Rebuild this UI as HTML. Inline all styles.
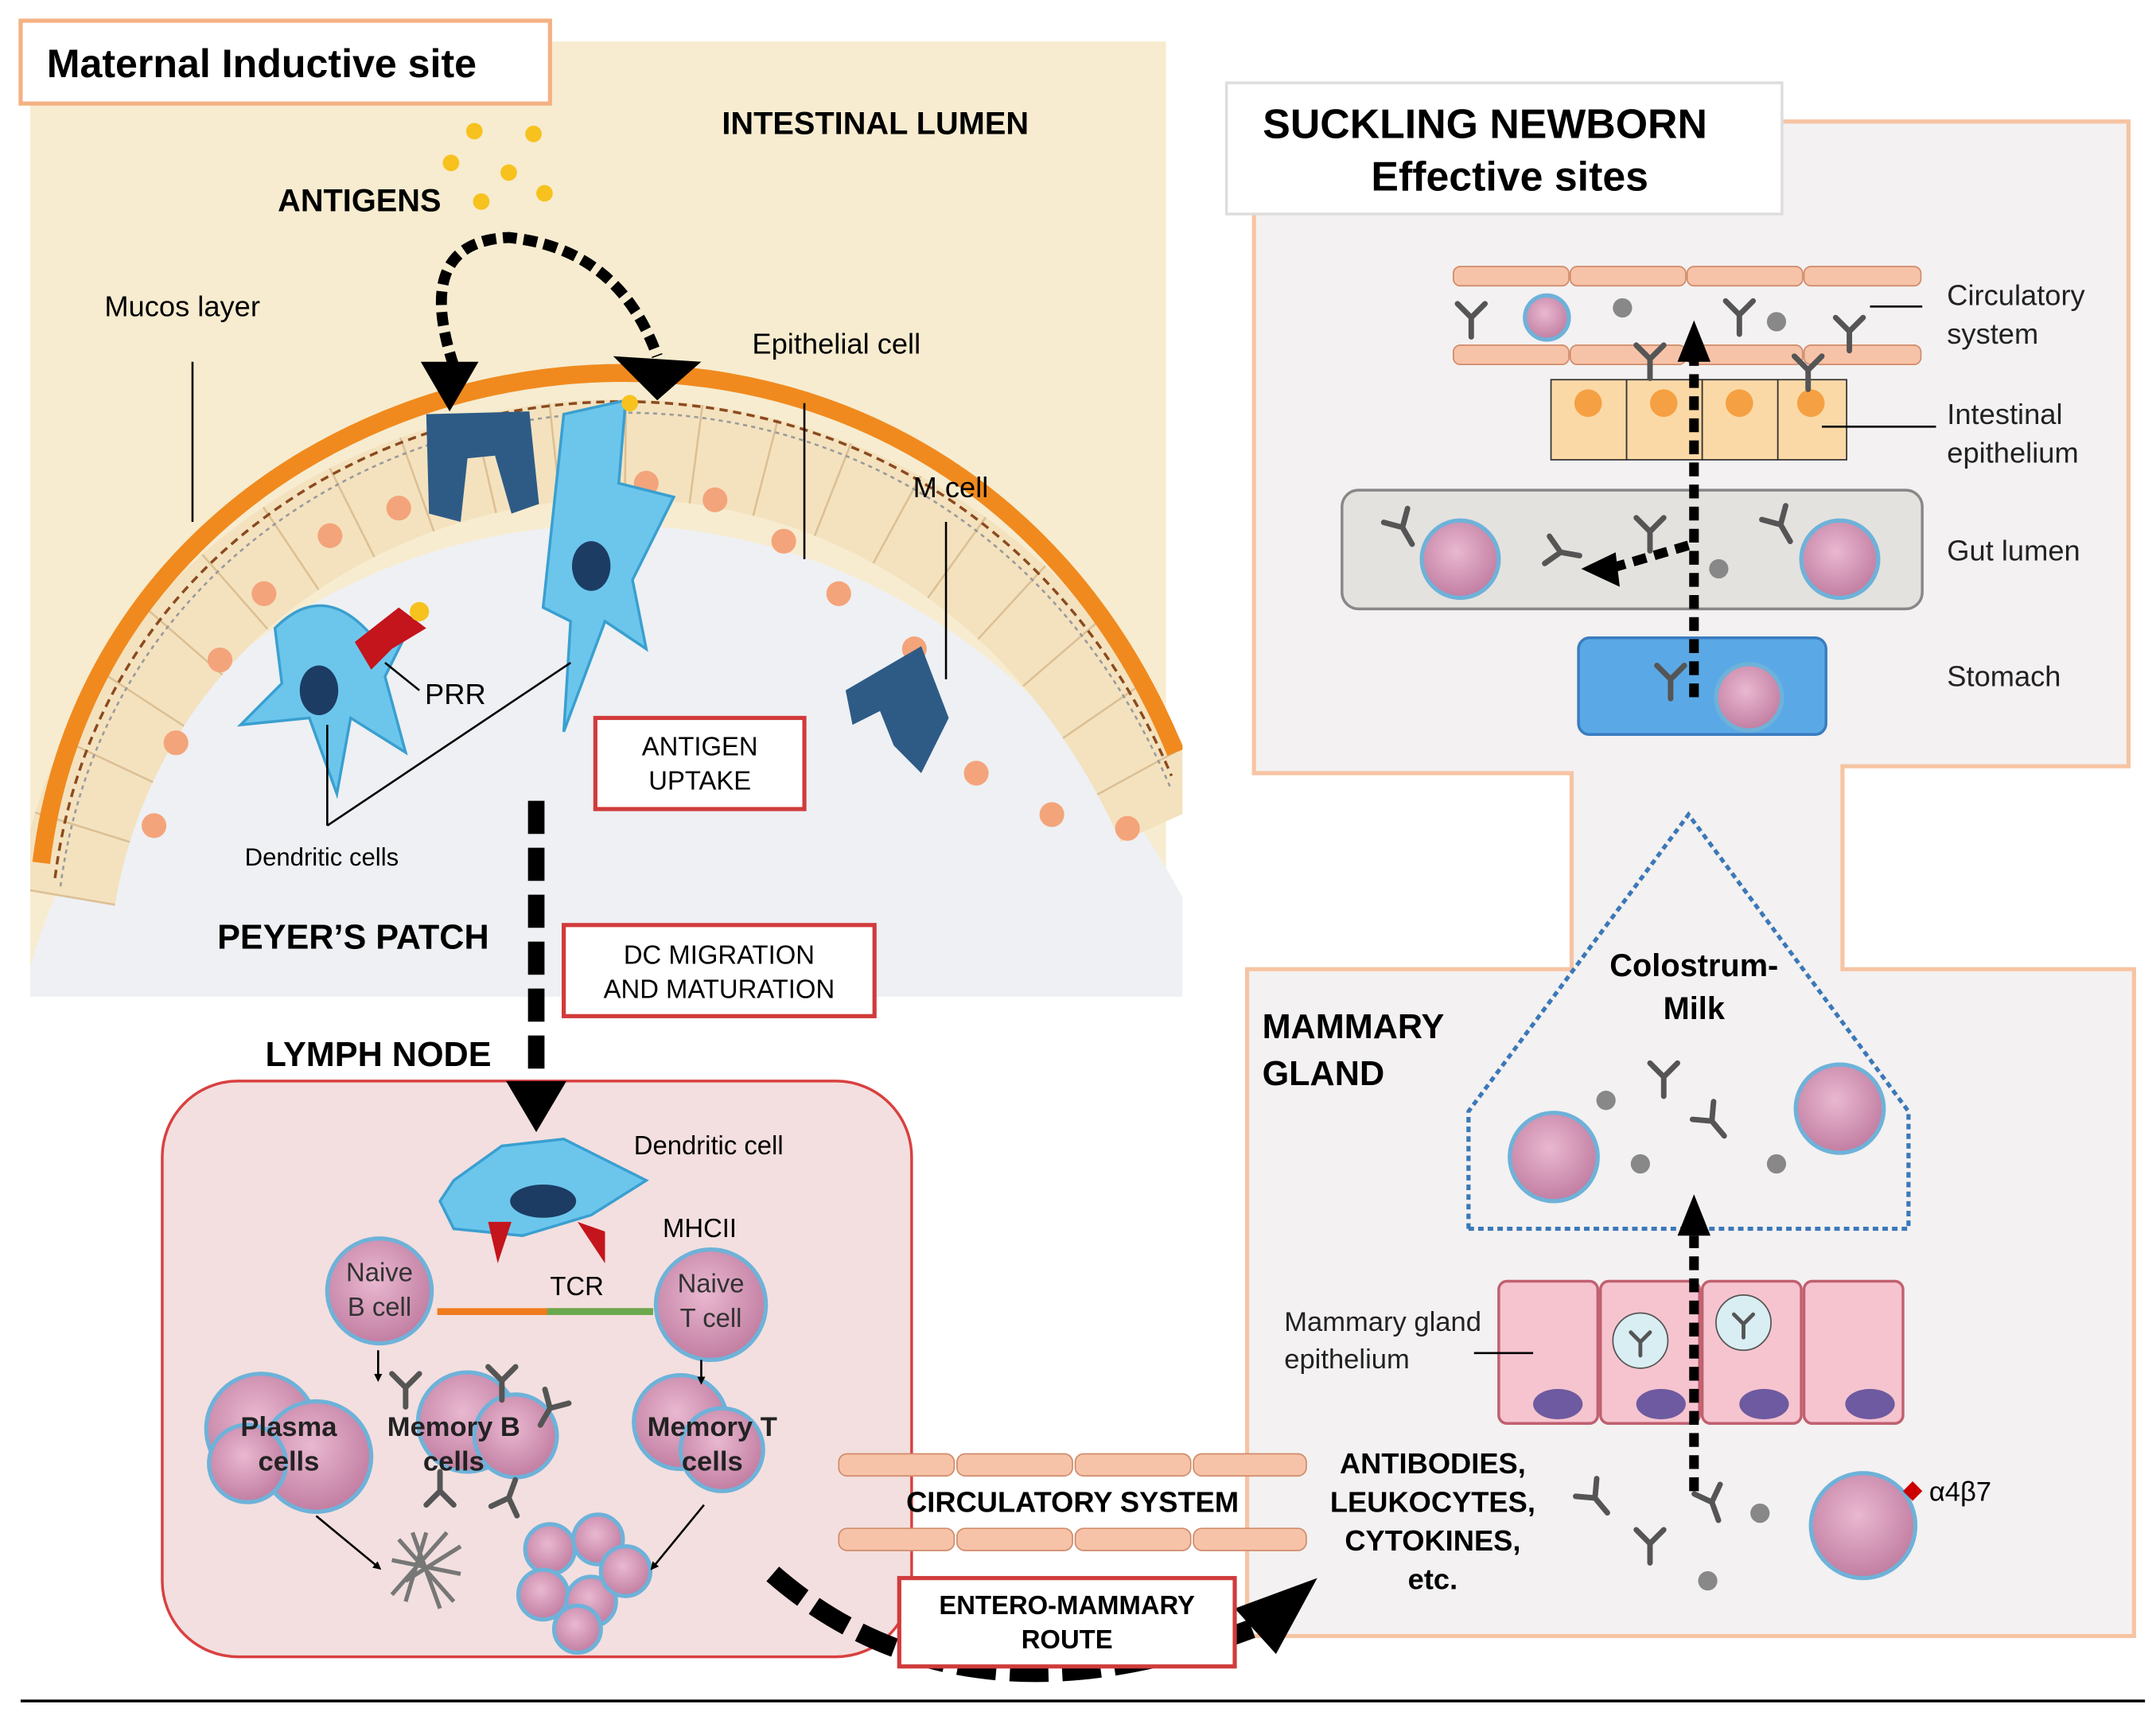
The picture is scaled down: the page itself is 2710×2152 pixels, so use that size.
<!DOCTYPE html>
<html><head><meta charset="utf-8"><style>
html,body{margin:0;padding:0;background:#fff}
svg{display:block}
text{font-family:"Liberation Sans",Arial,sans-serif}
</style></head><body>
<svg width="2710" height="2152" viewBox="0 0 1568 1240" preserveAspectRatio="none" xmlns="http://www.w3.org/2000/svg">
<defs>
<radialGradient id="cell" cx="45%" cy="40%" r="60%"><stop offset="0" stop-color="#e9b8d0"/><stop offset="1" stop-color="#c27ea2"/></radialGradient>
<marker id="ah" markerWidth="4" markerHeight="4" refX="2" refY="2" orient="auto"><path d="M0,0 L4,2 L0,4z" fill="#000"/></marker>
<g id="ab"><path d="M0,0 L0,14 M0,0 L-10,-10 M0,0 L10,-10" stroke="#555" stroke-width="4" fill="none" stroke-linecap="round"/></g>
<clipPath id="lp"><rect x="22" y="30" width="838" height="692"/></clipPath>
</defs>
<!-- left panel -->
<g clip-path="url(#lp)">
<rect x="22" y="30" width="826" height="692" fill="#f7ecd0"/>
<path d="M22,700 C130,330 640,240 860,650 L860,722 L22,722 Z" fill="#eef0f3"/>
<path d="M48,650 C110,280 660,180 848,595" fill="none" stroke="#f4e2bf" stroke-width="72"/>
<path d="M48,650 C110,280 660,180 848,595" fill="none" stroke="#dcc095" stroke-width="72" stroke-dasharray="1.5 50"/>
<path d="M30,625 C80,220 680,120 855,545" fill="none" stroke="#f08a1e" stroke-width="13"/>
<path d="M40,636 C90,240 675,145 852,562" fill="none" stroke="#8b4a1e" stroke-width="2" stroke-dasharray="6 4"/>
<path d="M44,642 C95,250 672,152 851,570" fill="none" stroke="#9a9a9a" stroke-width="1.5" stroke-dasharray="3 3"/>
</g>
<g fill="#f4a47a">
<circle cx="112" cy="598" r="9"/><circle cx="128" cy="538" r="9"/><circle cx="160" cy="478" r="9"/><circle cx="192" cy="430" r="9"/><circle cx="240" cy="388" r="9"/><circle cx="290" cy="368" r="9"/><circle cx="470" cy="350" r="9"/><circle cx="520" cy="362" r="9"/><circle cx="570" cy="392" r="9"/><circle cx="610" cy="430" r="9"/><circle cx="665" cy="470" r="9"/><circle cx="710" cy="560" r="9"/><circle cx="765" cy="590" r="9"/><circle cx="820" cy="600" r="9"/>
</g>
<path d="M310,300 L385,298 L392,365 L372,372 L360,330 L340,332 L335,378 L312,372 Z" fill="#2e5b86"/>
<path d="M615,500 L670,468 L690,520 L670,560 L650,540 L640,515 L620,525 Z" fill="#2e5b86"/>
<g fill="#6cc6ec" stroke="#3a9fd0" stroke-width="2">
<path d="M200,455 Q235,420 270,460 L300,450 L280,490 L295,545 L255,520 L245,575 L225,520 L175,525 L205,495 Z"/>
<path d="M410,300 L455,290 L450,350 L490,360 L460,420 L470,470 L440,450 L410,530 L415,450 L395,440 Z"/>
</g>
<ellipse cx="232" cy="500" rx="14" ry="18" fill="#1d3c63"/>
<ellipse cx="430" cy="410" rx="14" ry="18" fill="#1d3c63"/>
<path d="M258,465 L290,440 L310,455 L285,470 L270,485 Z" fill="#c4141c"/>
<circle cx="305" cy="443" r="7" fill="#f7c21e"/>
<circle cx="458" cy="292" r="6" fill="#f7c21e"/>
<g fill="#f7c21e"><circle cx="345" cy="95" r="6"/><circle cx="388" cy="97" r="6"/><circle cx="370" cy="125" r="6"/><circle cx="328" cy="118" r="6"/><circle cx="350" cy="146" r="6"/><circle cx="396" cy="140" r="6"/></g>
<path d="M330,265 Q300,175 370,172 Q450,180 478,258" fill="none" stroke="#000" stroke-width="8" stroke-dasharray="10 5"/>
<path d="M306,262 L348,262 L327,298Z" fill="#000"/>
<path d="M446,258 L510,262 L478,290Z" fill="#000"/>
<g stroke="#000" stroke-width="1.5" fill="none">
<line x1="140" y1="262" x2="140" y2="378"/><line x1="585" y1="292" x2="585" y2="405"/><line x1="688" y1="378" x2="688" y2="492"/>
<line x1="280" y1="480" x2="305" y2="500"/><line x1="238" y1="525" x2="238" y2="598"/><line x1="238" y1="598" x2="415" y2="480"/>
</g>
<rect x="15" y="15" width="385" height="60" fill="#fff" stroke="#f4b183" stroke-width="3"/>
<text x="34" y="56" font-size="29" font-weight="bold">Maternal Inductive site</text>
<text x="525" y="97" font-size="23" font-weight="bold">INTESTINAL LUMEN</text>
<text x="202" y="153" font-size="23" font-weight="bold">ANTIGENS</text>
<text x="76" y="229" font-size="21">Mucos layer</text>
<text x="547" y="256" font-size="21">Epithelial   cell</text>
<text x="664" y="360" font-size="21">M cell</text>
<text x="309" y="510" font-size="21">PRR</text>
<text x="178" y="627" font-size="18">Dendritic cells</text>
<rect x="433" y="520" width="152" height="66" fill="#fff" stroke="#d13b3b" stroke-width="3"/>
<text x="509" y="547" font-size="19" text-anchor="middle">ANTIGEN</text>
<text x="509" y="572" font-size="19" text-anchor="middle">UPTAKE</text>
<text x="158" y="687" font-size="25" font-weight="bold">PEYER’S PATCH</text>
<rect x="410" y="670" width="226" height="66" fill="#fff" stroke="#d13b3b" stroke-width="3"/>
<text x="523" y="698" font-size="19" text-anchor="middle">DC MIGRATION</text>
<text x="523" y="723" font-size="19" text-anchor="middle">AND MATURATION</text>
<text x="193" y="772" font-size="25" font-weight="bold">LYMPH NODE</text>
<rect x="118" y="783" width="545" height="417" rx="55" fill="#f3dfdf" stroke="#d94040" stroke-width="2"/>
<line x1="390" y1="580" x2="390" y2="785" stroke="#000" stroke-width="12" stroke-dasharray="24 10"/>
<path d="M368,783 L412,783 L390,820Z" fill="#000"/>
<path d="M330,855 L365,830 L410,825 L470,855 L430,880 L380,895 L330,890 L320,870Z" fill="#6cc6ec" stroke="#3a9fd0" stroke-width="2"/>
<ellipse cx="395" cy="870" rx="24" ry="12" fill="#1d3c63"/>
<path d="M355,885 L372,885 L362,915Z M420,885 L440,892 L440,915Z" fill="#c4141c"/>
<text x="461" y="836" font-size="19">Dendritic cell</text>
<text x="482" y="896" font-size="19">MHCII</text>
<text x="400" y="938" font-size="19">TCR</text>
<line x1="318" y1="950" x2="475" y2="950" stroke="#f07a1e" stroke-width="5"/>
<line x1="398" y1="950" x2="475" y2="950" stroke="#6aa84f" stroke-width="5"/>
<g stroke="#6eb2d9" stroke-width="3" fill="url(#cell)">
<circle cx="276" cy="935" r="38"/><circle cx="517" cy="945" r="40"/>
<circle cx="190" cy="1035" r="40"/><circle cx="230" cy="1055" r="40"/><circle cx="180" cy="1060" r="28"/>
<circle cx="340" cy="1030" r="36"/><circle cx="375" cy="1040" r="30"/>
<circle cx="495" cy="1030" r="34"/><circle cx="525" cy="1050" r="30"/>
<circle cx="400" cy="1122" r="18"/><circle cx="435" cy="1115" r="18"/><circle cx="395" cy="1155" r="18"/><circle cx="430" cy="1160" r="18"/><circle cx="455" cy="1138" r="18"/><circle cx="420" cy="1180" r="17"/>
</g>
<use href="#ab" transform="translate(295,1005)"/><use href="#ab" transform="translate(365,1000)"/><use href="#ab" transform="translate(400,1020) rotate(30)"/><use href="#ab" transform="translate(320,1080) rotate(180)"/><use href="#ab" transform="translate(370,1085) rotate(200)"/>
<text x="276" y="928" font-size="19" text-anchor="middle" fill="#333">Naive</text>
<text x="276" y="953" font-size="19" text-anchor="middle" fill="#333">B cell</text>
<text x="517" y="936" font-size="19" text-anchor="middle" fill="#333">Naive</text>
<text x="517" y="961" font-size="19" text-anchor="middle" fill="#333">T cell</text>
<g font-size="20" font-weight="bold" text-anchor="middle" fill="#222">
<text x="210" y="1040">Plasma</text><text x="210" y="1065">cells</text>
<text x="330" y="1040">Memory B</text><text x="330" y="1065">cells</text>
<text x="518" y="1040">Memory T</text><text x="518" y="1065">cells</text></g>
<g stroke="#000" stroke-width="1.5"><line x1="275" y1="978" x2="275" y2="998" marker-end="url(#ah)"/><line x1="510" y1="985" x2="510" y2="1000" marker-end="url(#ah)"/><line x1="230" y1="1098" x2="275" y2="1135" marker-end="url(#ah)"/><line x1="512" y1="1090" x2="475" y2="1135" marker-end="url(#ah)"/></g>
<g stroke="#777" stroke-width="3"><path d="M290,1115 L330,1160 M300,1110 L320,1165 M310,1110 L295,1160 M325,1110 L285,1155 M285,1130 L335,1140 M295,1145 L335,1120"/></g>
<path d="M912,88 L1548,88 L1548,555 L1340,555 L1340,702 L1552,702 L1552,1185 L907,1185 L907,702 L1143,702 L1143,560 L912,560 Z" fill="#f3f1f1" stroke="#f7c4a3" stroke-width="3"/>
<rect x="892" y="60" width="404" height="95" fill="#fff" stroke="#ddd" stroke-width="2"/>
<text x="1080" y="100" font-size="30" font-weight="bold" text-anchor="middle">SUCKLING NEWBORN</text>
<text x="1098" y="138" font-size="30" font-weight="bold" text-anchor="middle">Effective sites</text>
<g fill="#f7c3a8" stroke="#d08c6c"><rect x="1057" y="193" width="84" height="14" rx="5"/><rect x="1142" y="193" width="84" height="14" rx="5"/><rect x="1227" y="193" width="84" height="14" rx="5"/><rect x="1312" y="193" width="85" height="14" rx="5"/>
<rect x="1057" y="250" width="84" height="14" rx="5"/><rect x="1142" y="250" width="84" height="14" rx="5"/><rect x="1227" y="250" width="84" height="14" rx="5"/><rect x="1312" y="250" width="85" height="14" rx="5"/></g>
<g fill="#fbd9a6" stroke="#333"><rect x="1128" y="275" width="55" height="58"/><rect x="1183" y="275" width="55" height="58"/><rect x="1238" y="275" width="55" height="58"/><rect x="1293" y="275" width="50" height="58"/></g>
<g fill="#f5a042"><circle cx="1155" cy="292" r="10"/><circle cx="1210" cy="292" r="10"/><circle cx="1265" cy="292" r="10"/><circle cx="1317" cy="292" r="10"/></g>
<rect x="976" y="355" width="422" height="86" rx="12" fill="#e4e2de" stroke="#888" stroke-width="2"/>
<rect x="1148" y="462" width="180" height="70" rx="8" fill="#5aa9e6" stroke="#3a7cc0" stroke-width="2"/>
<g stroke="#6eb2d9" stroke-width="3" fill="url(#cell)">
<circle cx="1125" cy="230" r="16"/><circle cx="1062" cy="405" r="28"/><circle cx="1338" cy="405" r="28"/><circle cx="1272" cy="505" r="24"/>
<circle cx="1130" cy="838" r="32"/><circle cx="1338" cy="803" r="32"/><circle cx="1355" cy="1105" r="38"/></g>
<g fill="#888"><circle cx="1180" cy="223" r="7"/><circle cx="1292" cy="233" r="7"/><circle cx="1250" cy="412" r="7"/><circle cx="1168" cy="797" r="7"/><circle cx="1193" cy="843" r="7"/><circle cx="1292" cy="843" r="7"/><circle cx="1280" cy="1096" r="7"/><circle cx="1242" cy="1145" r="7"/></g>
<use href="#ab" transform="translate(1070,230)"/><use href="#ab" transform="translate(1265,228)"/><use href="#ab" transform="translate(1345,240)"/><use href="#ab" transform="translate(1200,260)"/><use href="#ab" transform="translate(1315,268)"/>
<use href="#ab" transform="translate(1020,382) rotate(-30)"/><use href="#ab" transform="translate(1135,400) rotate(-80)"/><use href="#ab" transform="translate(1200,385)"/><use href="#ab" transform="translate(1295,380) rotate(-30)"/><use href="#ab" transform="translate(1215,492)"/>
<use href="#ab" transform="translate(1210,780)"/><use href="#ab" transform="translate(1245,812) rotate(-40)"/>
<use href="#ab" transform="translate(1160,1085) rotate(-40)"/><use href="#ab" transform="translate(1200,1118)"/><use href="#ab" transform="translate(1245,1088) rotate(-20)"/>
<path d="M1232,505 L1232,260" stroke="#000" stroke-width="7" stroke-dasharray="10 6" fill="none"/>
<path d="M1220,262 L1244,262 L1232,232Z" fill="#000"/>
<path d="M1228,395 L1170,412" stroke="#000" stroke-width="7" stroke-dasharray="10 6"/>
<path d="M1175,400 L1150,412 L1178,425Z" fill="#000"/>
<g font-size="21" fill="#222"><text x="1416" y="221">Circulatory</text><text x="1416" y="249">system</text><text x="1416" y="307">Intestinal</text><text x="1416" y="335">epithelium</text><text x="1416" y="406">Gut lumen</text><text x="1416" y="497">Stomach</text></g>
<g stroke="#000" stroke-width="1.5"><line x1="1360" y1="222" x2="1398" y2="222"/><line x1="1325" y1="309" x2="1408" y2="309"/></g>
<path d="M1068,890 L1068,805 L1228,590 L1388,805 L1388,890 Z" fill="none" stroke="#3b78b8" stroke-width="3" stroke-dasharray="4 3"/>
<text x="1232" y="707" font-size="23" font-weight="bold" text-anchor="middle">Colostrum-</text>
<text x="1232" y="738" font-size="23" font-weight="bold" text-anchor="middle">Milk</text>
<text x="918" y="752" font-size="25" font-weight="bold">MAMMARY</text>
<text x="918" y="786" font-size="25" font-weight="bold">GLAND</text>
<g fill="#f6c4cf" stroke="#c06070" stroke-width="2"><rect x="1090" y="928" width="72" height="103" rx="6"/><rect x="1164" y="928" width="72" height="103" rx="6"/><rect x="1238" y="928" width="72" height="103" rx="6"/><rect x="1312" y="928" width="72" height="103" rx="6"/></g>
<g fill="#6d5aa0"><ellipse cx="1133" cy="1017" rx="18" ry="11"/><ellipse cx="1208" cy="1017" rx="18" ry="11"/><ellipse cx="1283" cy="1017" rx="18" ry="11"/><ellipse cx="1360" cy="1017" rx="18" ry="11"/></g>
<g fill="#d9eef2" stroke="#555"><circle cx="1193" cy="971" r="20"/><circle cx="1268" cy="958" r="20"/></g>
<use href="#ab" transform="translate(1193,972) scale(0.7)"/><use href="#ab" transform="translate(1268,959) scale(0.7)"/>
<path d="M1232,1080 L1232,895" stroke="#000" stroke-width="7" stroke-dasharray="10 6"/>
<path d="M1220,895 L1244,895 L1232,865Z" fill="#000"/>
<text x="934" y="964" font-size="20" fill="#222">Mammary gland</text>
<text x="934" y="991" font-size="20" fill="#222">epithelium</text>
<line x1="1072" y1="980" x2="1115" y2="980" stroke="#000" stroke-width="1.5"/>
<g font-size="21" font-weight="bold" text-anchor="middle"><text x="1042" y="1067">ANTIBODIES,</text><text x="1042" y="1095">LEUKOCYTES,</text><text x="1042" y="1123">CYTOKINES,</text><text x="1042" y="1151">etc.</text></g>
<rect x="1386" y="1075" width="10" height="10" fill="#c00" transform="rotate(45 1391 1080)"/>
<text x="1403" y="1087" font-size="20">α4β7</text>
<g fill="#f7c3a8" stroke="#d08c6c"><rect x="610" y="1053" width="84" height="16" rx="6"/><rect x="696" y="1053" width="84" height="16" rx="6"/><rect x="782" y="1053" width="84" height="16" rx="6"/><rect x="868" y="1053" width="82" height="16" rx="6"/>
<rect x="610" y="1107" width="84" height="16" rx="6"/><rect x="696" y="1107" width="84" height="16" rx="6"/><rect x="782" y="1107" width="84" height="16" rx="6"/><rect x="868" y="1107" width="82" height="16" rx="6"/></g>
<text x="780" y="1095" font-size="21" font-weight="bold" text-anchor="middle">CIRCULATORY SYSTEM</text>
<path d="M562,1140 Q700,1260 915,1178" fill="none" stroke="#000" stroke-width="14" stroke-dasharray="28 10"/>
<path d="M958,1143 L898,1165 L928,1198Z" fill="#000"/>
<rect x="654" y="1143" width="244" height="64" fill="#fff" stroke="#d13b3b" stroke-width="3"/>
<text x="776" y="1169" font-size="19" font-weight="bold" text-anchor="middle">ENTERO-MAMMARY</text>
<text x="776" y="1194" font-size="19" font-weight="bold" text-anchor="middle">ROUTE</text>
<line x1="15" y1="1232" x2="1560" y2="1232" stroke="#000" stroke-width="2"/>
</svg>
</body></html>
